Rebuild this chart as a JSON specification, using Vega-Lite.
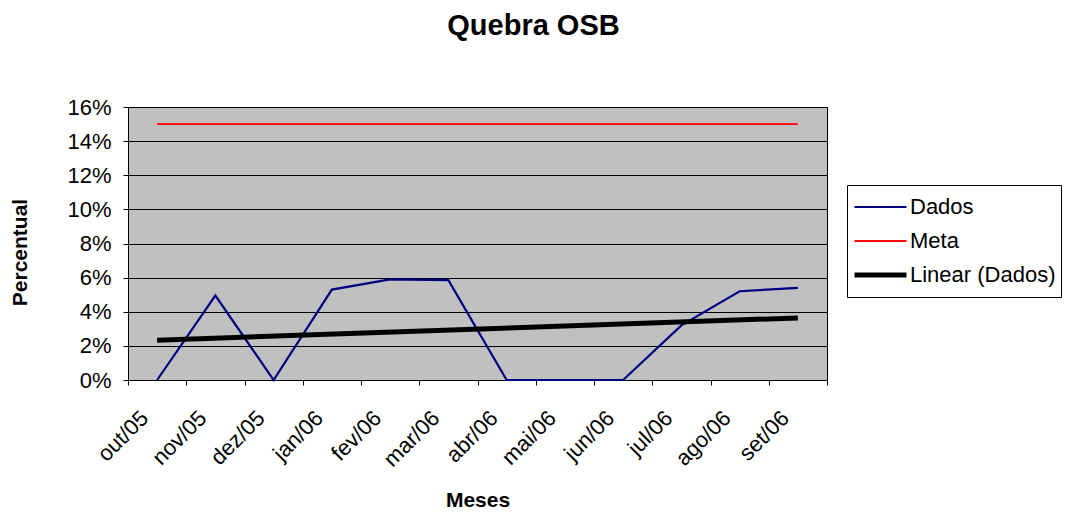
{
  "$schema": "https://vega.github.io/schema/vega-lite/v6.json",
  "autosize": "none",
  "width": 699,
  "height": 273,
  "padding": {"left": 128, "top": 107, "right": 242, "bottom": 132},
  "background": "white",
  "title": {"text": "Quebra OSB", "font": "Liberation Sans", "fontSize": 29, "fontWeight": "bold", "color": "black", "anchor": "middle", "frame": "group", "dx": 56, "offset": 55},
  "config": {
    "view": {"fill": "#C0C0C0", "stroke": "black", "strokeWidth": 1},
    "font": "Liberation Sans",
    "axis": {"labelFont": "Liberation Sans", "labelFontSize": 22, "labelColor": "black", "titleFont": "Liberation Sans", "titleFontSize": 21, "titleFontWeight": "bold", "titleColor": "black", "domainColor": "black", "tickColor": "black", "tickSize": 5, "gridColor": "black", "gridWidth": 1},
    "legend": {"labelFont": "Liberation Sans", "labelFontSize": 22, "labelColor": "black"}
  },
  "data": {"values": [
    {"mes": "out/05", "serie": "Dados", "valor": 0},
    {"mes": "nov/05", "serie": "Dados", "valor": 0.0495},
    {"mes": "dez/05", "serie": "Dados", "valor": 0},
    {"mes": "jan/06", "serie": "Dados", "valor": 0.053},
    {"mes": "fev/06", "serie": "Dados", "valor": 0.059},
    {"mes": "mar/06", "serie": "Dados", "valor": 0.0585},
    {"mes": "abr/06", "serie": "Dados", "valor": 0},
    {"mes": "mai/06", "serie": "Dados", "valor": 0},
    {"mes": "jun/06", "serie": "Dados", "valor": 0},
    {"mes": "jul/06", "serie": "Dados", "valor": 0.032},
    {"mes": "ago/06", "serie": "Dados", "valor": 0.052},
    {"mes": "set/06", "serie": "Dados", "valor": 0.054},
    {"mes": "out/05", "serie": "Meta", "valor": 0.15},
    {"mes": "nov/05", "serie": "Meta", "valor": 0.15},
    {"mes": "dez/05", "serie": "Meta", "valor": 0.15},
    {"mes": "jan/06", "serie": "Meta", "valor": 0.15},
    {"mes": "fev/06", "serie": "Meta", "valor": 0.15},
    {"mes": "mar/06", "serie": "Meta", "valor": 0.15},
    {"mes": "abr/06", "serie": "Meta", "valor": 0.15},
    {"mes": "mai/06", "serie": "Meta", "valor": 0.15},
    {"mes": "jun/06", "serie": "Meta", "valor": 0.15},
    {"mes": "jul/06", "serie": "Meta", "valor": 0.15},
    {"mes": "ago/06", "serie": "Meta", "valor": 0.15},
    {"mes": "set/06", "serie": "Meta", "valor": 0.15},
    {"mes": "out/05", "serie": "Linear (Dados)", "valor": 0.0233},
    {"mes": "set/06", "serie": "Linear (Dados)", "valor": 0.0364}
  ]},
  "mark": {"type": "line", "strokeCap": "butt"},
  "encoding": {
    "x": {"field": "mes", "type": "ordinal", "sort": null,
      "scale": {"type": "band", "paddingInner": 0, "paddingOuter": 0},
      "axis": {"title": "Meses", "titleFontSize": 21, "labelAngle": -45, "tickBand": "extent", "grid": false, "labelPadding": 22, "labelOffset": -20, "titlePadding": 19}},
    "y": {"field": "valor", "type": "quantitative",
      "scale": {"domain": [0, 0.16], "nice": false},
      "axis": {"title": "Percentual", "format": ".0%", "values": [0, 0.02, 0.04, 0.06, 0.08, 0.1, 0.12, 0.14, 0.16], "labelPadding": 12, "titlePadding": 36, "titleY": 145}},
    "color": {"field": "serie", "type": "nominal",
      "scale": {"domain": ["Dados", "Meta", "Linear (Dados)"], "range": ["#000080", "#FF0000", "#000000"]},
      "legend": {"title": null, "orient": "none", "legendX": 719, "legendY": 78, "symbolType": "stroke", "symbolSize": 2700, "fillColor": "white", "strokeColor": "black", "padding": 5, "rowPadding": 0, "clipHeight": 34, "labelOffset": 1}},
    "strokeWidth": {"field": "serie", "type": "nominal",
      "scale": {"type": "ordinal", "domain": ["Dados", "Meta", "Linear (Dados)"], "range": [2.2, 1.8, 5]},
      "legend": {"title": null, "orient": "none", "legendX": 719, "legendY": 78, "symbolType": "stroke", "symbolSize": 2700, "fillColor": "white", "strokeColor": "black", "padding": 5, "rowPadding": 0, "clipHeight": 34, "labelOffset": 1}}
  }
}
